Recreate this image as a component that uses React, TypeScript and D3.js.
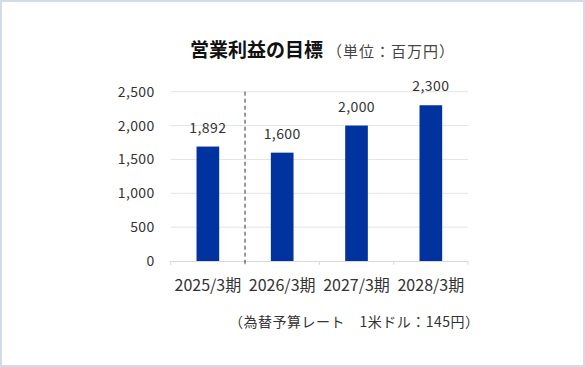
import { useEffect, useRef } from "react";
import * as d3 from "d3";

const WIDTH = 585;
const HEIGHT = 367;
const MARGIN = { top: 91.7, right: 117, bottom: 106, left: 170.7 };

const categories = ["2025/3期", "2026/3期", "2027/3期", "2028/3期"];
// bar heights as drawn; first bar is drawn shorter than its label in the source
const values = [1690, 1600, 2000, 2300];
const valueLabels = ["1,892", "1,600", "2,000", "2,300"];
const yTicks = [0, 500, 1000, 1500, 2000, 2500];

const FONT = '"Noto Sans CJK JP", "Noto Sans", sans-serif';

export default function App() {
    const axesRef = useRef<SVGGElement>(null);
    const boundsWidth = WIDTH - MARGIN.left - MARGIN.right;
    const boundsHeight = HEIGHT - MARGIN.top - MARGIN.bottom;

    const xScale = d3.scaleBand().domain(categories).range([0, boundsWidth]).padding(0);
    const yScale = d3.scaleLinear().domain([0, 2500]).range([boundsHeight, 0]);
    const barWidth = xScale.bandwidth() * 0.305;

    useEffect(() => {
        const g = d3.select(axesRef.current);
        g.selectAll("*").remove();

        // gridlines
        g.selectAll("line.grid")
            .data(yTicks.filter((d) => d > 0))
            .join("line")
            .attr("class", "grid")
            .attr("x1", 0)
            .attr("x2", boundsWidth)
            .attr("y1", (d) => yScale(d))
            .attr("y2", (d) => yScale(d))
            .attr("stroke", "#e4e4e4")
            .attr("stroke-width", 1);

        // y labels
        const yAxis = d3
            .axisLeft(yScale)
            .tickValues(yTicks)
            .tickFormat((d) => d3.format(",")(d as number))
            .tickSize(0)
            .tickPadding(16);
        const ya = g.append("g").call(yAxis);
        ya.select(".domain").remove();
        ya.selectAll("text")
            .attr("font-family", FONT)
            .attr("font-size", 14)
            .attr("letter-spacing", 0.4)
            .attr("fill", "#333");

        // x axis
        const xAxis = d3.axisBottom(xScale).tickSize(0).tickPadding(19);
        const xa = g.append("g").attr("transform", `translate(0, ${boundsHeight})`).call(xAxis);
        xa.select(".domain").attr("stroke", "#d9d9d9");
        xa.selectAll("text")
            .attr("font-family", FONT)
            .attr("font-size", 16)
            .attr("fill", "#333");

        // category boundary ticks
        const edges = categories.map((c) => xScale(c) as number).concat([boundsWidth]);
        g.selectAll("line.edge")
            .data(edges)
            .join("line")
            .attr("class", "edge")
            .attr("x1", (d) => d)
            .attr("x2", (d) => d)
            .attr("y1", boundsHeight)
            .attr("y2", boundsHeight + 4)
            .attr("stroke", "#d9d9d9");

        // bars
        g.selectAll("rect.bar")
            .data(values)
            .join("rect")
            .attr("class", "bar")
            .attr("x", (_, i) => (xScale(categories[i]) as number) + (xScale.bandwidth() - barWidth) / 2)
            .attr("y", (d) => yScale(d))
            .attr("width", barWidth)
            .attr("height", (d) => boundsHeight - yScale(d))
            .attr("fill", "#0033a0");

        // value labels
        g.selectAll("text.val")
            .data(values)
            .join("text")
            .attr("class", "val")
            .attr("x", (_, i) => (xScale(categories[i]) as number) + xScale.bandwidth() / 2)
            .attr("y", (d) => yScale(d) - 14)
            .attr("text-anchor", "middle")
            .attr("font-family", FONT)
            .attr("font-size", 14)
            .attr("letter-spacing", 0.4)
            .attr("fill", "#333")
            .text((_, i) => valueLabels[i]);

        // dashed divider between actual and target
        const divX = xScale(categories[1]) as number;
        g.append("line")
            .attr("x1", divX)
            .attr("x2", divX)
            .attr("y1", 0)
            .attr("y2", boundsHeight + 4)
            .attr("stroke", "#333")
            .attr("stroke-dasharray", "4,3");
    }, [boundsWidth, boundsHeight]);

    return (
        <svg
            width={WIDTH}
            height={HEIGHT}
            style={{ position: "absolute", left: 0, top: 0, background: "#fff" }}
        >
            <rect x={1} y={1} width={WIDTH - 2} height={HEIGHT - 2} fill="#fff" stroke="#d3dbe8" strokeWidth={2} />
            <text x={190} y={57} fontFamily={FONT} fontSize={19} fontWeight="bold" fill="#111">
                営業利益の目標
            </text>
            <text x={327} y={57} fontFamily={FONT} fontSize={15} letterSpacing={1} fill="#444">
                （単位：百万円）
            </text>
            <g ref={axesRef} transform={`translate(${MARGIN.left}, ${MARGIN.top})`} />
            <text x={229} y={327} fontFamily={FONT} fontSize={14} letterSpacing={0.5} fill="#333">
                （為替予算レート　1米ドル：145円）
            </text>
        </svg>
    );
}
